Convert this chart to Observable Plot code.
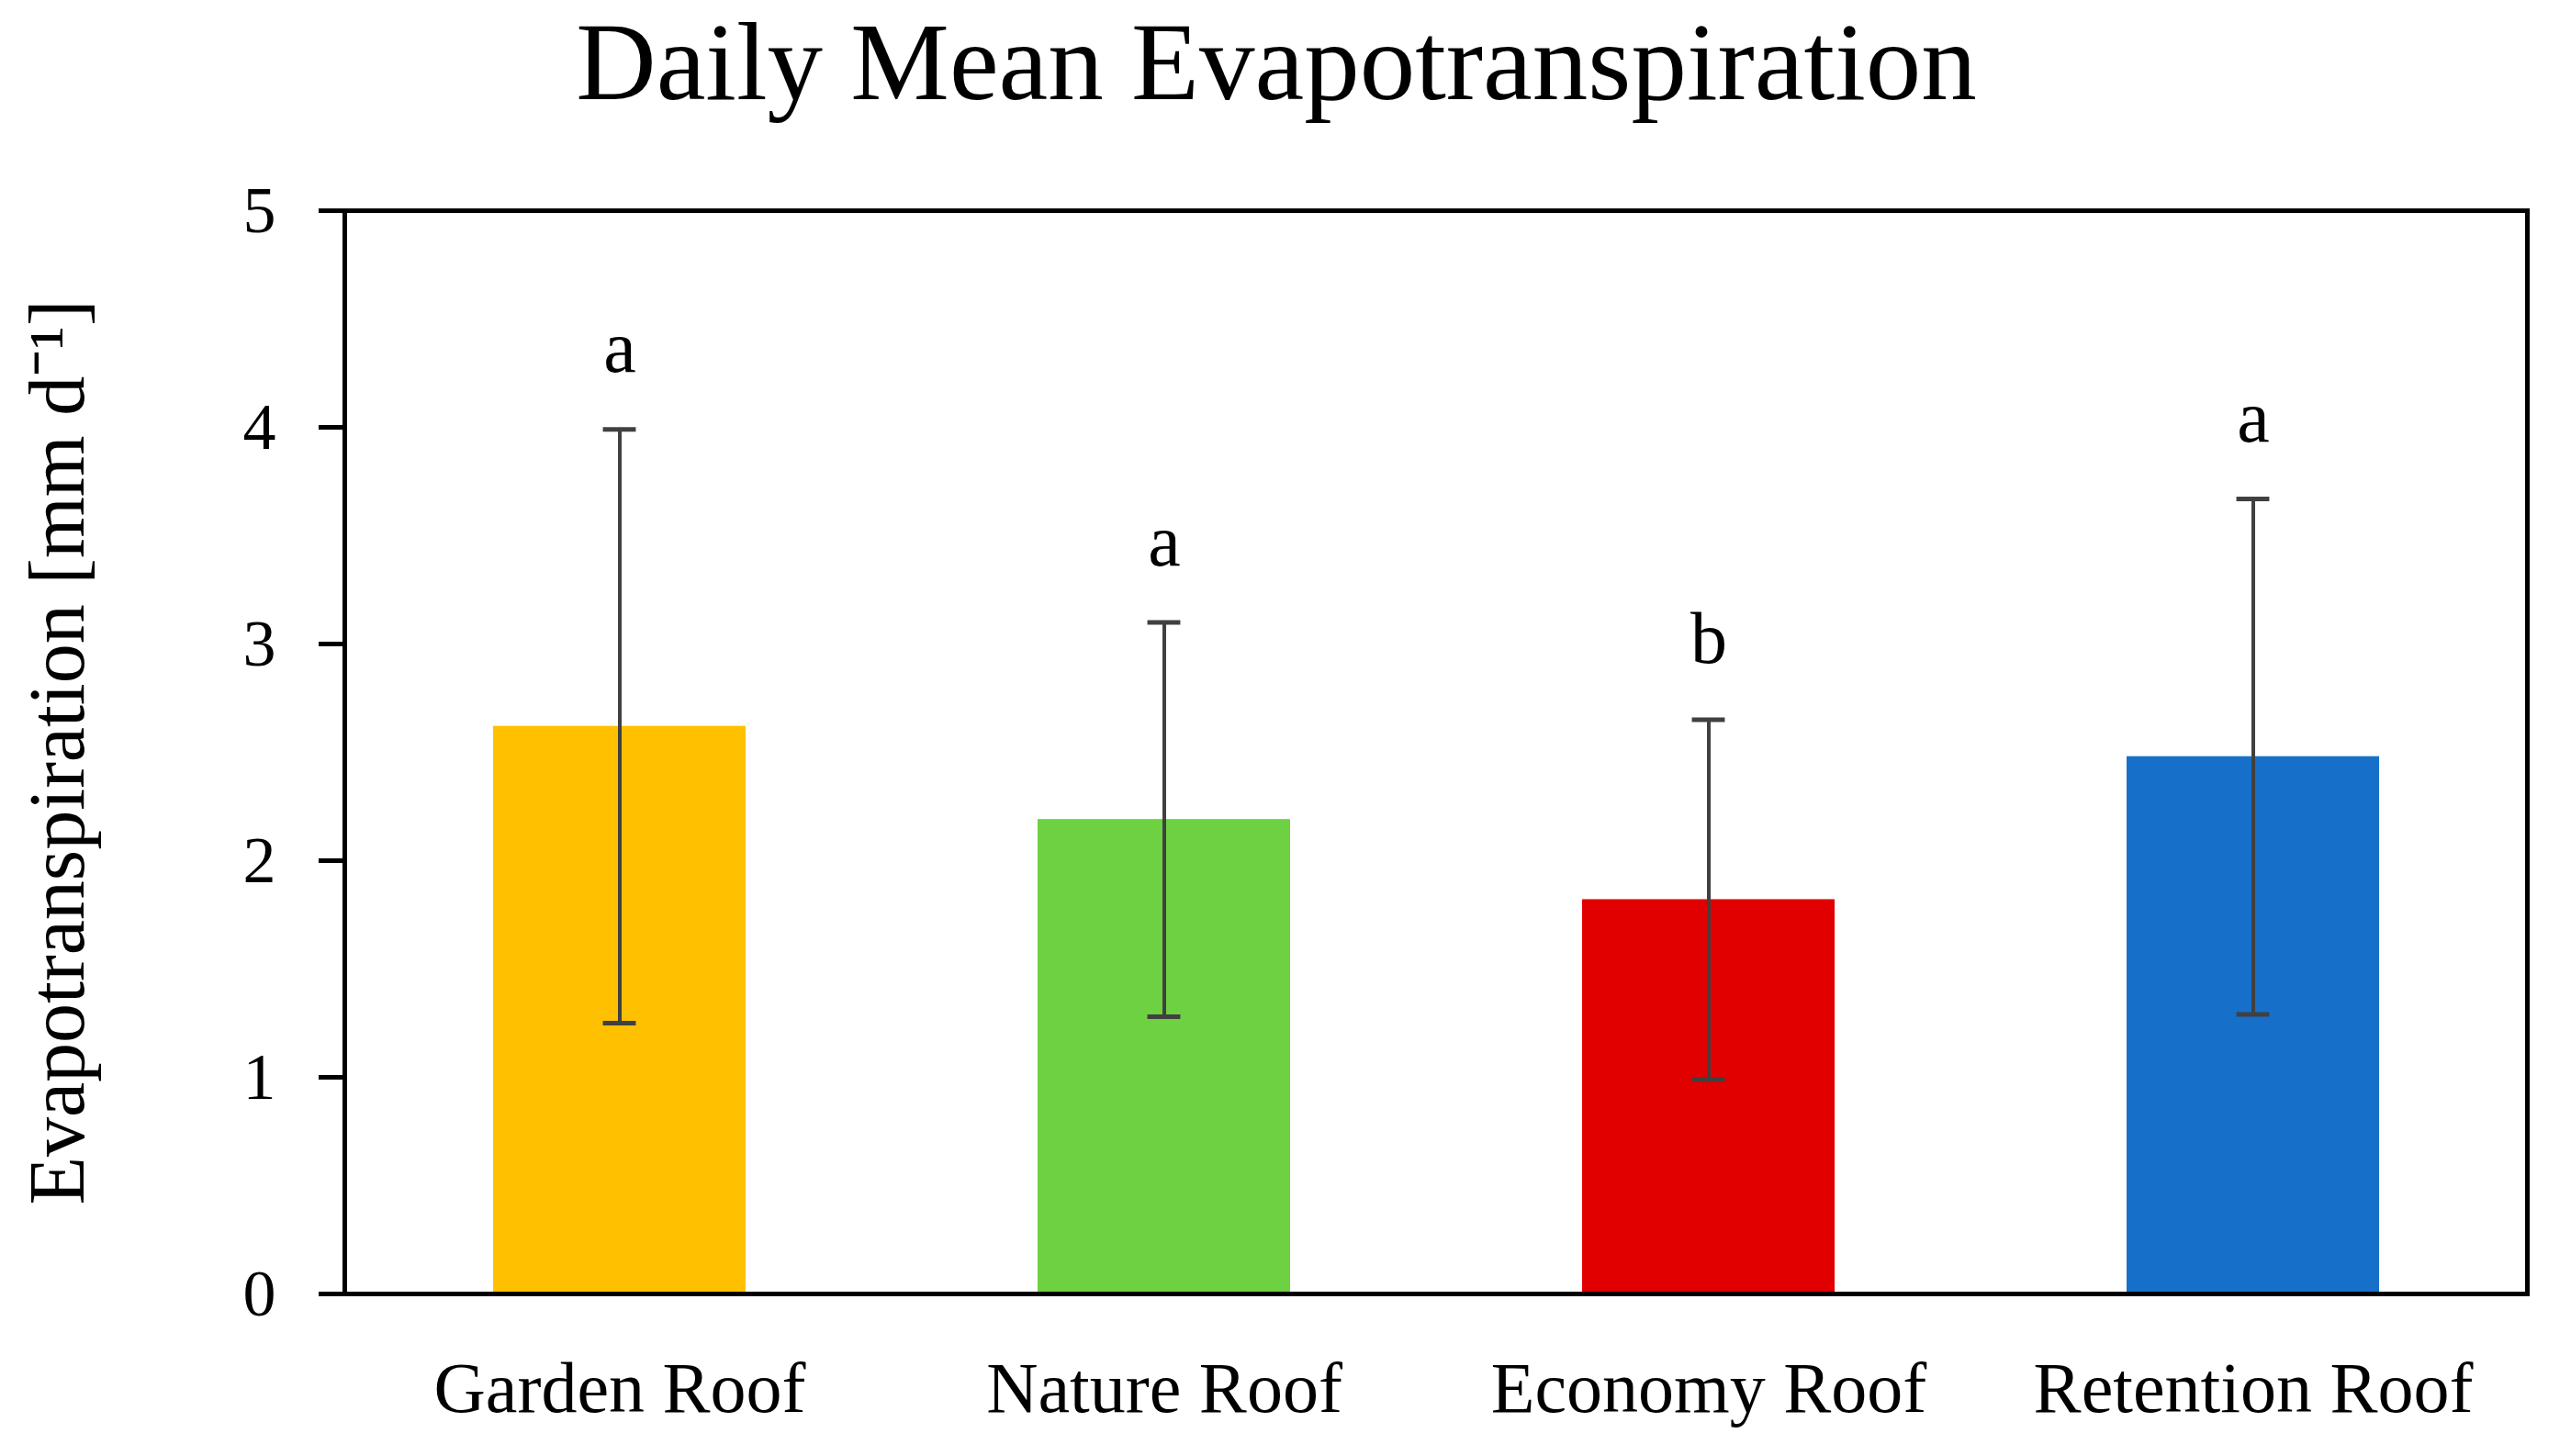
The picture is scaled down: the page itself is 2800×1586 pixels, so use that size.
<!DOCTYPE html>
<html>
<head>
<meta charset="utf-8">
<script src="https://cdn.jsdelivr.net/npm/d3@7"></script>
<script src="https://cdn.jsdelivr.net/npm/@observablehq/plot@0.6"></script>
<style>
  html, body { margin: 0; padding: 0; background: #fff; }
  #wrap { width: 2800px; height: 1586px; overflow: hidden; }
  #title {
    width: 2800px; height: 160px; box-sizing: border-box; padding-right: 20px;
    text-align: center; font-family: "Liberation Serif", serif; font-size: 121px;
    line-height: 134px; color: #000; white-space: nowrap;
  }
</style>
</head>
<body>
<div id="wrap">
  <div id="title">Daily Mean Evapotranspiration</div>
  <div id="chart"></div>
</div>
<script>
const categories = ["Garden Roof", "Nature Roof", "Economy Roof", "Retention Roof"];
const means = [2.62, 2.19, 1.82, 2.48];
const sds = [1.37, 0.91, 0.83, 1.19];
const letters = ["a", "a", "b", "a"];
const colors = ["#FFC000", "#6DD141", "#E00000", "#1670CA"];
const yTicks = [0, 1, 2, 3, 4, 5];
const yLabel = "Evapotranspiration [mm d⁻¹]";

const data = categories.map((c, i) => ({
  cat: c, mean: means[i], lo: means[i] - sds[i], hi: means[i] + sds[i], letter: letters[i]
}));

const W = 2800, H = 1426, ml = 375, mr = 48, mt = 69, mb = 177;
const padIn = 0.537, padOut = 0.27;
const step = (W - ml - mr) / categories.length;
const bw = step * (1 - padIn);
const capW = 36;
const capInset = (bw - capW) / 2;

const plot = Plot.plot({
  width: W, height: H,
  marginLeft: ml, marginRight: mr, marginTop: mt, marginBottom: mb,
  style: { fontFamily: "Liberation Serif, serif", background: "#fff", color: "#000" },
  x: { domain: categories, paddingInner: padIn, paddingOuter: padOut, label: null, axis: null },
  y: { domain: [0, 5], label: null, axis: null },
  color: { domain: categories, range: colors },
  marks: [
    Plot.barY(data, { x: "cat", y: "mean", fill: "cat" }),
    Plot.ruleX(data, { x: "cat", y1: "lo", y2: "hi", stroke: "#404040", strokeWidth: 4 }),
    Plot.tickY(data, { x: "cat", y: "lo", stroke: "#404040", strokeWidth: 5, insetLeft: capInset, insetRight: capInset }),
    Plot.tickY(data, { x: "cat", y: "hi", stroke: "#404040", strokeWidth: 5, insetLeft: capInset, insetRight: capInset }),
    Plot.text(data, { x: "cat", y: "hi", text: "letter", dy: -88, fontSize: 80, fill: "#000" }),
    Plot.axisY({ ticks: yTicks, tickFormat: d => String(d), tickSize: 28, tickPadding: 47, fontSize: 72, strokeWidth: 5, label: null }),
    Plot.axisX({ tickSize: 0, tickPadding: 73, fontSize: 78, label: null }),
    Plot.frame({ stroke: "#000", strokeWidth: 5 }),
    Plot.text([yLabel], { frameAnchor: "left", textAnchor: "middle", lineAnchor: "middle", rotate: -90, dx: -312, fontSize: 86, fill: "#000" })
  ]
});
document.getElementById("chart").appendChild(plot);
</script>
</body>
</html>
